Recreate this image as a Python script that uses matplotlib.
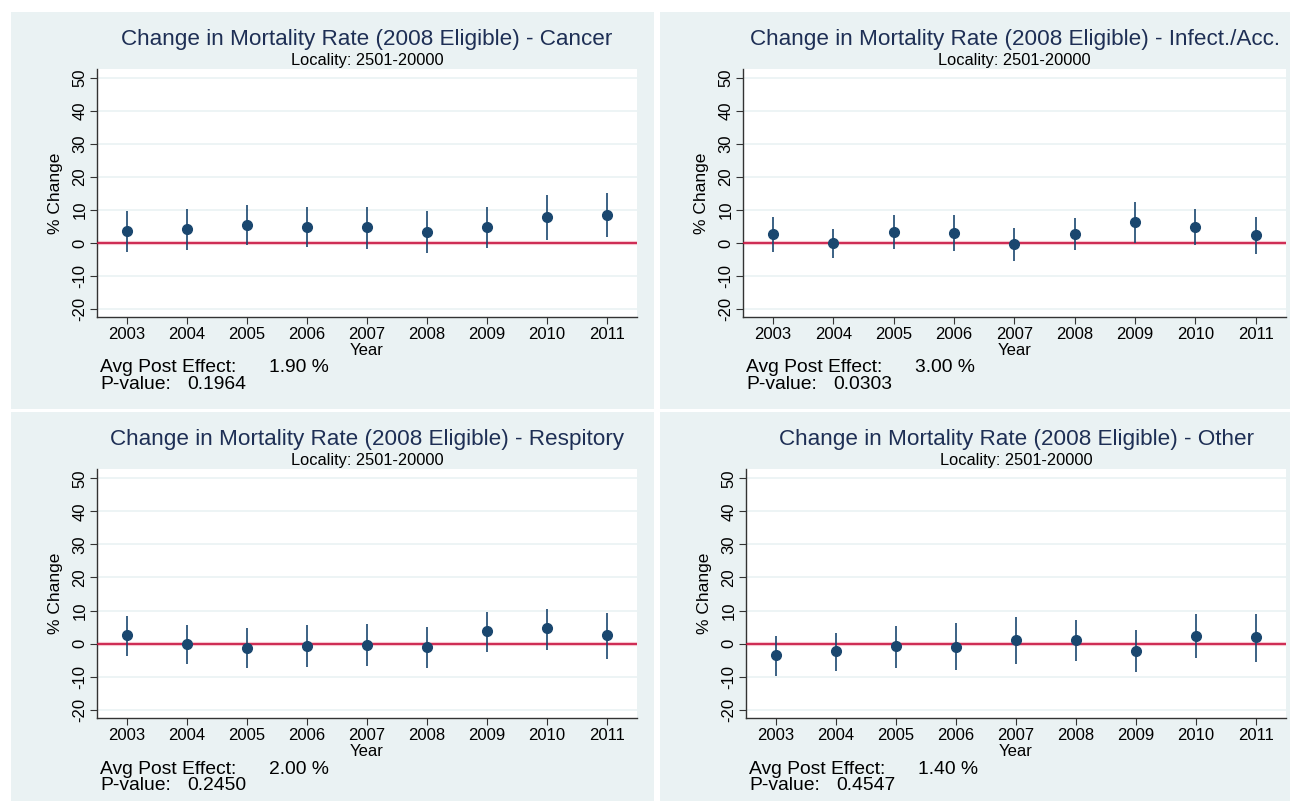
import matplotlib
matplotlib.use("Agg")
import matplotlib.pyplot as plt
from matplotlib.patches import Rectangle

plt.rcParams['font.family'] = ['Liberation Sans', 'DejaVu Sans']

years = [2003, 2004, 2005, 2006, 2007, 2008, 2009, 2010, 2011]

titles = ["Change in Mortality Rate (2008 Eligible) - Cancer",
          "Change in Mortality Rate (2008 Eligible) - Infect./Acc.",
          "Change in Mortality Rate (2008 Eligible) - Respitory",
          "Change in Mortality Rate (2008 Eligible) - Other"]
subtitle = "Locality: 2501-20000"

cancer_est = [3.7, 4.2, 5.5, 4.8, 4.8, 3.4, 4.8, 7.8, 8.6]
cancer_hi = [9.7, 10.3, 11.4, 10.9, 11.0, 9.8, 10.8, 14.5, 15.0]
cancer_lo = [-2.7, -2.2, -0.7, -1.3, -1.8, -3.2, -1.5, 1.0, 1.7]

infect_est = [2.8, -0.1, 3.4, 3.1, -0.4, 2.8, 6.4, 4.8, 2.3]
infect_hi = [7.9, 4.3, 8.6, 8.5, 4.5, 7.5, 12.5, 10.3, 8.0]
infect_lo = [-2.8, -4.7, -1.8, -2.5, -5.5, -2.1, 0.0, -0.7, -3.5]

resp_est = [2.5, -0.1, -1.2, -0.6, -0.3, -0.9, 3.7, 4.6, 2.5]
resp_hi = [8.4, 5.7, 4.8, 5.5, 5.9, 5.1, 9.5, 10.6, 9.4]
resp_lo = [-3.7, -6.3, -7.4, -7.0, -6.7, -7.3, -2.5, -1.9, -4.7]

other_est = [-3.5, -2.3, -0.6, -0.9, 1.1, 1.1, -2.1, 2.3, 2.0]
other_hi = [2.3, 3.3, 5.4, 6.1, 8.1, 7.0, 4.1, 9.0, 9.1]
other_lo = [-9.8, -8.4, -7.3, -8.1, -6.2, -5.4, -8.7, -4.5, -5.7]

avg_effects = ["1.90 %", "3.00 %", "2.00 %", "1.40 %"]
p_values = ["0.1964", "0.0303", "0.2450", "0.4547"]

yticks = [-20, -10, 0, 10, 20, 30, 40, 50]

W, H = 1290, 801
fig = plt.figure(figsize=(W / 100, H / 100), dpi=100)
fig.patch.set_facecolor('white')

BG = '#eaf2f3'
NAVY = '#1a476f'
RED = '#c8103e'
TITLE_C = '#1e2f55'


def fx(x):
    return x / W


def fy(y):
    return 1 - y / H


# panel backgrounds (left, top, right, bottom in px)
panels = [(11, 12, 654, 409), (660, 12, 1290, 409),
          (11, 412, 654, 801), (660, 412, 1290, 801)]
for (l, t, r, b) in panels:
    rect = Rectangle((fx(l), fy(b)), fx(r - l), (b - t) / H,
                     transform=fig.transFigure, facecolor=BG,
                     edgecolor='none', zorder=-10)
    fig.add_artist(rect)

axes_px = [(97, 69, 637, 317), (743, 69, 1286, 317),
           (97, 469, 637, 718), (746, 469, 1286, 718)]

data = [(cancer_est, cancer_lo, cancer_hi),
        (infect_est, infect_lo, infect_hi),
        (resp_est, resp_lo, resp_hi),
        (other_est, other_lo, other_hi)]

for i, ((l, t, r, b), (est, lo, hi)) in enumerate(zip(axes_px, data)):
    ax = fig.add_axes([fx(l), fy(b), (r - l) / W, (b - t) / H])
    ax.set_zorder(1)
    ax.set_facecolor('white')
    ax.set_xlim(2002.5, 2011.5)
    ax.set_ylim(-22.5, 52.8)
    for yv in yticks:
        ax.axhline(yv, color=BG, lw=1.2, zorder=1)
    ax.axhline(0, color='#f0a0b0', lw=3.0, zorder=2, alpha=0.6)
    ax.axhline(0, color=RED, lw=1.2, zorder=3)
    ax.vlines(years, lo, hi, color=NAVY, lw=1.2, zorder=4)
    ax.plot(years, est, 'o', color=NAVY, ms=7, zorder=5)
    for s in ['top', 'right']:
        ax.spines[s].set_visible(False)
    for s in ['left', 'bottom']:
        ax.spines[s].set_color('#333333')
        ax.spines[s].set_linewidth(1.0)
    ax.set_xticks(years)
    ax.set_xticklabels([str(y) for y in years], fontsize=12)
    ax.set_yticks(yticks)
    ax.set_yticklabels([str(v) for v in yticks], fontsize=12, rotation=90,
                       va='center')
    ax.tick_params(axis='both', length=5, width=0.8, color='#333333',
                   pad=2)
    ax.set_xlabel('Year', fontsize=12, labelpad=1)
    ax.set_ylabel('% Change', fontsize=12.5, labelpad=7)
    cx = (l + r) / 2
    fig.text(fx(cx), fy(t - 30), titles[i], ha='center', va='center',
             fontsize=16.2, color=TITLE_C)
    fig.text(fx(cx), fy(t - 8), subtitle, ha='center', va='center',
             fontsize=11.8, color='black')
    fig.text(fx(l + 3), fy(b + 51), 'Avg Post Effect:', ha='left',
             va='center', fontsize=13.9)
    fig.text(fx(l + 172), fy(b + 51), avg_effects[i], ha='left',
             va='center', fontsize=13.9)
    fig.text(fx(l + 3), fy(b + 67), 'P-value:', ha='left', va='center',
             fontsize=13.9)
    fig.text(fx(l + 90), fy(b + 67), p_values[i], ha='left', va='center',
             fontsize=13.9)

fig.savefig('out.png', dpi=100, facecolor='white')
